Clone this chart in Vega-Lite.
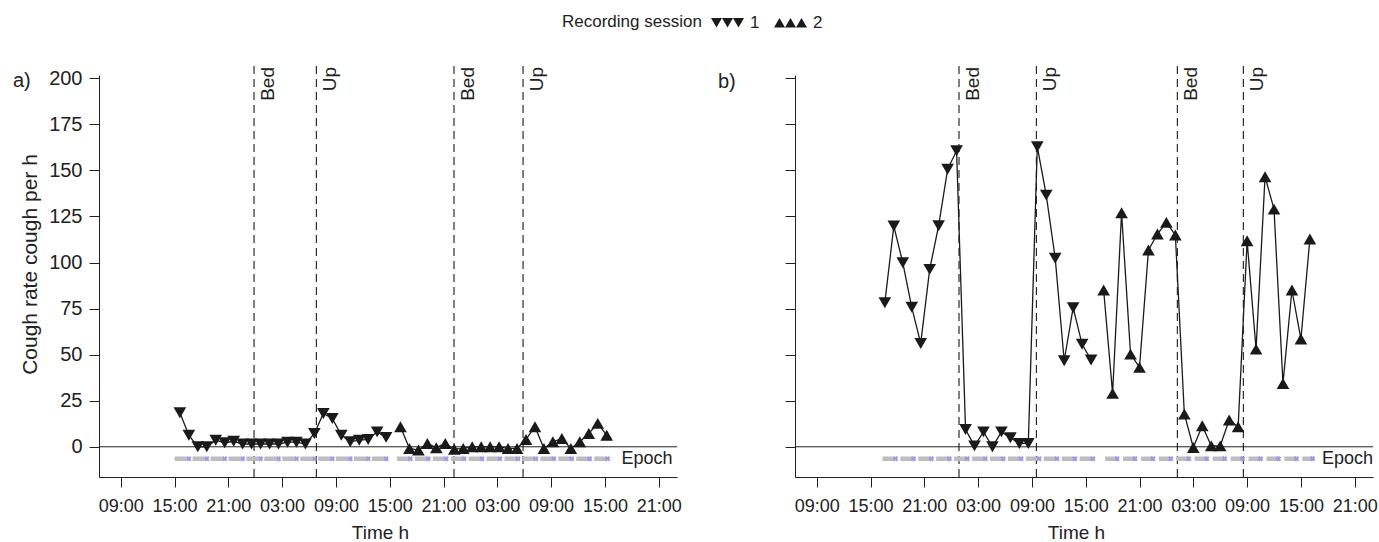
{
  "$schema": "https://vega.github.io/schema/vega-lite/v6.json",
  "background": "white",
  "padding": {"left": 13, "top": 14, "right": 5, "bottom": 2},
  "bounds": "flush",
  "spacing": 118,
  "resolve": {"scale": {"shape": "independent"}, "legend": {"shape": "independent"}},
  "config": {
    "font": "Liberation Sans",
    "view": {"stroke": null},
    "axis": {"domainColor": "#222", "tickColor": "#222", "labelColor": "#222", "titleColor": "#222", "grid": false, "labelFont": "Liberation Sans", "titleFont": "Liberation Sans", "titleFontWeight": "normal", "tickSize": 10, "domainWidth": 1, "tickWidth": 1},
    "title": {"font": "Liberation Sans", "fontWeight": "normal", "fontSize": 20, "color": "#222"},
    "legend": {"labelFont": "Liberation Sans", "titleFont": "Liberation Sans"}
  },
  "datasets": {
    "pts": [
      {"panel":"a","session":"1","hour":15.6,"rate":18.5},{"panel":"a","session":"1","hour":16.6,"rate":6.3},{"panel":"a","session":"1","hour":17.6,"rate":0},{"panel":"a","session":"1","hour":18.6,"rate":0},{"panel":"a","session":"1","hour":19.6,"rate":3.6},{"panel":"a","session":"1","hour":20.6,"rate":2.2},{"panel":"a","session":"1","hour":21.6,"rate":3},{"panel":"a","session":"1","hour":22.6,"rate":1.5},{"panel":"a","session":"1","hour":23.6,"rate":1.5},{"panel":"a","session":"1","hour":24.6,"rate":1.5},{"panel":"a","session":"1","hour":25.6,"rate":1.5},{"panel":"a","session":"1","hour":26.6,"rate":1.5},{"panel":"a","session":"1","hour":27.6,"rate":2.5},{"panel":"a","session":"1","hour":28.6,"rate":2.5},{"panel":"a","session":"1","hour":29.6,"rate":1.5},{"panel":"a","session":"1","hour":30.6,"rate":7.2},{"panel":"a","session":"1","hour":31.6,"rate":18.1},{"panel":"a","session":"1","hour":32.6,"rate":15.4},{"panel":"a","session":"1","hour":33.6,"rate":6.3},{"panel":"a","session":"1","hour":34.6,"rate":2.7},{"panel":"a","session":"1","hour":35.6,"rate":3.6},{"panel":"a","session":"1","hour":36.6,"rate":4},{"panel":"a","session":"1","hour":37.6,"rate":8.1},{"panel":"a","session":"1","hour":38.6,"rate":5.1},
      {"panel":"a","session":"2","hour":40.2,"rate":10.9},{"panel":"a","session":"2","hour":41.2,"rate":-0.9},{"panel":"a","session":"2","hour":42.2,"rate":-1.8},{"panel":"a","session":"2","hour":43.2,"rate":1.8},{"panel":"a","session":"2","hour":44.2,"rate":-0.5},{"panel":"a","session":"2","hour":45.2,"rate":1.8},{"panel":"a","session":"2","hour":46.2,"rate":-1.3},{"panel":"a","session":"2","hour":47.2,"rate":-0.9},{"panel":"a","session":"2","hour":48.2,"rate":0},{"panel":"a","session":"2","hour":49.2,"rate":0},{"panel":"a","session":"2","hour":50.2,"rate":0},{"panel":"a","session":"2","hour":51.2,"rate":0},{"panel":"a","session":"2","hour":52.2,"rate":-0.9},{"panel":"a","session":"2","hour":53.2,"rate":-0.9},{"panel":"a","session":"2","hour":54.2,"rate":4},{"panel":"a","session":"2","hour":55.2,"rate":10.9},{"panel":"a","session":"2","hour":56.2,"rate":-0.9},{"panel":"a","session":"2","hour":57.2,"rate":2.7},{"panel":"a","session":"2","hour":58.2,"rate":4.5},{"panel":"a","session":"2","hour":59.2,"rate":-0.9},{"panel":"a","session":"2","hour":60.2,"rate":2.7},{"panel":"a","session":"2","hour":61.2,"rate":7.2},{"panel":"a","session":"2","hour":62.2,"rate":12.7},{"panel":"a","session":"2","hour":63.2,"rate":6.3},
      {"panel":"b","session":"1","hour":16.6,"rate":78.2},{"panel":"b","session":"1","hour":17.6,"rate":119.8},{"panel":"b","session":"1","hour":18.6,"rate":99.9},{"panel":"b","session":"1","hour":19.6,"rate":75.7},{"panel":"b","session":"1","hour":20.6,"rate":56.1},{"panel":"b","session":"1","hour":21.6,"rate":96.3},{"panel":"b","session":"1","hour":22.6,"rate":120},{"panel":"b","session":"1","hour":23.6,"rate":150.6},{"panel":"b","session":"1","hour":24.6,"rate":160.7},{"panel":"b","session":"1","hour":25.6,"rate":9.4},{"panel":"b","session":"1","hour":26.6,"rate":0.5},{"panel":"b","session":"1","hour":27.6,"rate":8.1},{"panel":"b","session":"1","hour":28.6,"rate":0},{"panel":"b","session":"1","hour":29.6,"rate":8.1},{"panel":"b","session":"1","hour":30.6,"rate":4.9},{"panel":"b","session":"1","hour":31.6,"rate":1.8},{"panel":"b","session":"1","hour":32.6,"rate":1.8},{"panel":"b","session":"1","hour":33.6,"rate":162.9},{"panel":"b","session":"1","hour":34.6,"rate":136.6},{"panel":"b","session":"1","hour":35.6,"rate":102.3},{"panel":"b","session":"1","hour":36.6,"rate":46.7},{"panel":"b","session":"1","hour":37.6,"rate":75.5},{"panel":"b","session":"1","hour":38.6,"rate":55.6},{"panel":"b","session":"1","hour":39.6,"rate":47.1},
      {"panel":"b","session":"2","hour":41,"rate":85.1},{"panel":"b","session":"2","hour":42,"rate":29},{"panel":"b","session":"2","hour":43,"rate":127},{"panel":"b","session":"2","hour":44,"rate":50.3},{"panel":"b","session":"2","hour":45,"rate":43.1},{"panel":"b","session":"2","hour":46,"rate":106.8},{"panel":"b","session":"2","hour":47,"rate":115.5},{"panel":"b","session":"2","hour":48,"rate":121.8},{"panel":"b","session":"2","hour":49,"rate":114.9},{"panel":"b","session":"2","hour":50,"rate":17.8},{"panel":"b","session":"2","hour":51,"rate":-0.4},{"panel":"b","session":"2","hour":52,"rate":11.4},{"panel":"b","session":"2","hour":53,"rate":0.5},{"panel":"b","session":"2","hour":54,"rate":0.5},{"panel":"b","session":"2","hour":55,"rate":14.5},{"panel":"b","session":"2","hour":56,"rate":10.9},{"panel":"b","session":"2","hour":57,"rate":111.8},{"panel":"b","session":"2","hour":58,"rate":53},{"panel":"b","session":"2","hour":59,"rate":146.6},{"panel":"b","session":"2","hour":60,"rate":129},{"panel":"b","session":"2","hour":61,"rate":34.4},{"panel":"b","session":"2","hour":62,"rate":85.1},{"panel":"b","session":"2","hour":63,"rate":58.5},{"panel":"b","session":"2","hour":64,"rate":112.8}
    ],
    "events": [
      {"panel":"a","label":"Bed","hour":23.87},{"panel":"a","label":"Up","hour":30.82},{"panel":"a","label":"Bed","hour":46.17},{"panel":"a","label":"Up","hour":53.87},
      {"panel":"b","label":"Bed","hour":24.87},{"panel":"b","label":"Up","hour":33.5},{"panel":"b","label":"Bed","hour":49.22},{"panel":"b","label":"Up","hour":56.58}
    ],
    "epoch": [
      {"panel":"a","seg":1,"hour":15.02},{"panel":"a","seg":1,"hour":39.0},{"panel":"a","seg":2,"hour":39.81},{"panel":"a","seg":2,"hour":63.84},
      {"panel":"b","seg":1,"hour":16.33},{"panel":"b","seg":1,"hour":40.31},{"panel":"b","seg":2,"hour":41.16},{"panel":"b","seg":2,"hour":64.58}
    ],
    "epochLabel": [
      {"panel":"a","hour":63.84,"label":"Epoch"},{"panel":"b","hour":64.58,"label":"Epoch"}
    ],
    "ticksE": [
      {"panel":"a","hour":16.6},{"panel":"a","hour":18.6},{"panel":"a","hour":20.6},{"panel":"a","hour":22.6},{"panel":"a","hour":24.6},{"panel":"a","hour":26.6},{"panel":"a","hour":28.6},{"panel":"a","hour":30.6},{"panel":"a","hour":32.6},{"panel":"a","hour":34.6},{"panel":"a","hour":36.6},{"panel":"a","hour":38.6},
      {"panel":"a","hour":41.3},{"panel":"a","hour":43.3},{"panel":"a","hour":45.3},{"panel":"a","hour":47.3},{"panel":"a","hour":49.3},{"panel":"a","hour":51.3},{"panel":"a","hour":53.3},{"panel":"a","hour":55.3},{"panel":"a","hour":57.3},{"panel":"a","hour":59.3},{"panel":"a","hour":61.3},{"panel":"a","hour":63.3},
      {"panel":"b","hour":17.8},{"panel":"b","hour":19.8},{"panel":"b","hour":21.8},{"panel":"b","hour":23.8},{"panel":"b","hour":25.8},{"panel":"b","hour":27.8},{"panel":"b","hour":29.8},{"panel":"b","hour":31.8},{"panel":"b","hour":33.8},{"panel":"b","hour":35.8},{"panel":"b","hour":37.8},{"panel":"b","hour":39.8},
      {"panel":"b","hour":42.5},{"panel":"b","hour":44.5},{"panel":"b","hour":46.5},{"panel":"b","hour":48.5},{"panel":"b","hour":50.5},{"panel":"b","hour":52.5},{"panel":"b","hour":54.5},{"panel":"b","hour":56.5},{"panel":"b","hour":58.5},{"panel":"b","hour":60.5},{"panel":"b","hour":62.5},{"panel":"b","hour":64.3}
    ]
  },
  "hconcat": [
    {
      "width": 578, "height": 402,
      "title": {"text": "a)", "anchor": "start", "frame": "group", "orient": "top", "offset": 0, "dx": -86, "dy": 77},
      "resolve": {"scale": {"shape": "independent"}, "legend": {"shape": "independent"}},
      "layer": [
        {"data": {"name": "events"}, "transform": [{"filter": "datum.panel == 'a'"}],
         "mark": {"type": "rule", "color": "#1a1a1a", "strokeDash": [8, 5], "strokeWidth": 1.1},
         "encoding": {"x": {"field": "hour", "type": "quantitative"}, "y": {"datum": -16.4}, "y2": {"datum": 209}}},
        {"data": {"name": "events"}, "transform": [{"filter": "datum.panel == 'a'"}],
         "mark": {"type": "text", "angle": 270, "align": "right", "baseline": "top", "dx": 8, "dy": 5, "fontSize": 19, "color": "#222"},
         "encoding": {"x": {"field": "hour", "type": "quantitative"}, "y": {"datum": 201.8}, "text": {"field": "label"}}},
        {"data": {"values": [{}]},
         "mark": {"type": "rule", "color": "#222", "strokeWidth": 1},
         "encoding": {"y": {"datum": 0}}},
        {"data": {"name": "epoch"}, "transform": [{"filter": "datum.panel == 'a'"}],
         "mark": {"type": "line", "color": "#bdbdbd", "strokeWidth": 4.5, "strokeDash": [12, 5.93]},
         "encoding": {"x": {"field": "hour", "type": "quantitative"}, "y": {"datum": -6.5}, "detail": {"field": "seg"}}},
        {"data": {"name": "ticksE"}, "transform": [{"filter": "datum.panel == 'a'"}],
         "mark": {"type": "point", "shape": "cross", "filled": true, "size": 30, "color": "#a397e0", "angle": 45, "opacity": 1},
         "encoding": {"x": {"field": "hour", "type": "quantitative"}, "y": {"datum": -6.5}}},
        {"data": {"name": "epochLabel"}, "transform": [{"filter": "datum.panel == 'a'"}],
         "mark": {"type": "text", "align": "left", "baseline": "middle", "dx": 9, "fontSize": 18, "color": "#222"},
         "encoding": {"x": {"field": "hour", "type": "quantitative"}, "y": {"datum": -6.5}, "text": {"field": "label"}}},
        {"data": {"name": "pts"}, "transform": [{"filter": "datum.panel == 'a'"}],
         "mark": {"type": "line", "color": "#1a1a1a", "strokeWidth": 1.3},
         "encoding": {
           "x": {"field": "hour", "type": "quantitative", "scale": {"domain": [6.58, 71.04], "nice": false, "zero": false},
                 "axis": {"values": [9, 15, 21, 27, 33, 39, 45, 51, 57, 63, 69], "labelExpr": "(datum.value % 24 < 10 ? '0' : '') + (datum.value % 24) + ':00'", "title": "Time h", "titleX": 281, "titleFontSize": 19, "labelFontSize": 18, "labelPadding": 10, "titlePadding": 8, "labelFlush": false}},
           "y": {"field": "rate", "type": "quantitative", "scale": {"domain": [-16.4, 201.8], "nice": false, "zero": false},
                 "axis": {"values": [0, 25, 50, 75, 100, 125, 150, 175, 200], "title": "Cough rate cough per h", "titleY": 189, "titleFontSize": 21, "labelFontSize": 20, "labelPadding": 7, "titlePadding": 8}},
           "detail": {"field": "session"}}},
        {"data": {"name": "pts"}, "transform": [{"filter": "datum.panel == 'a'"}],
         "mark": {"type": "point", "filled": true, "size": 160, "color": "#1a1a1a", "opacity": 1},
         "encoding": {
           "x": {"field": "hour", "type": "quantitative"},
           "y": {"field": "rate", "type": "quantitative"},
           "shape": {"field": "session", "type": "nominal", "scale": {"domain": ["1", "2"], "range": ["triangle-down", "triangle-up"]}, "legend": null}}},
        {"data": {"name": "pts"}, "transform": [{"filter": "datum.panel == 'z'"}],
         "mark": {"type": "point", "filled": true, "size": 121, "color": "#1a1a1a", "opacity": 1, "strokeWidth": 1},
         "encoding": {
           "shape": {"field": "session", "type": "nominal",
                     "scale": {"domain": ["1", "2"], "range": ["M-1,-0.866L1,-0.866L0,0.866Z M1,-0.866L3,-0.866L2,0.866Z M3,-0.866L5,-0.866L4,0.866Z M0,0L4,0", "M-1,0.866L1,0.866L0,-0.866Z M1,0.866L3,0.866L2,-0.866Z M3,0.866L5,0.866L4,-0.866Z M0,0L4,0"]},
                     "legend": {"orient": "none", "legendX": 463, "legendY": -61, "direction": "horizontal", "title": "Recording session", "titleOrient": "left", "titleFontSize": 17, "titleFontWeight": "normal", "titleColor": "#222", "titleBaseline": "middle", "titlePadding": 6, "labelFontSize": 17, "labelColor": "#222", "symbolSize": 121, "symbolFillColor": "#1a1a1a", "symbolStrokeColor": "#1a1a1a", "symbolStrokeWidth": 1, "symbolOpacity": 1, "labelOffset": 25, "columnPadding": 11}}}}
      ]
    },
    {
      "width": 578, "height": 402,
      "title": {"text": "b)", "anchor": "start", "frame": "group", "orient": "top", "offset": 0, "dx": -77, "dy": 31},
      "layer": [
        {"data": {"name": "events"}, "transform": [{"filter": "datum.panel == 'b'"}],
         "mark": {"type": "rule", "color": "#1a1a1a", "strokeDash": [8, 5], "strokeWidth": 1.1},
         "encoding": {"x": {"field": "hour", "type": "quantitative"}, "y": {"datum": -16.4}, "y2": {"datum": 209}}},
        {"data": {"name": "events"}, "transform": [{"filter": "datum.panel == 'b'"}],
         "mark": {"type": "text", "angle": 270, "align": "right", "baseline": "top", "dx": 8, "dy": 5, "fontSize": 19, "color": "#222"},
         "encoding": {"x": {"field": "hour", "type": "quantitative"}, "y": {"datum": 201.8}, "text": {"field": "label"}}},
        {"data": {"values": [{}]},
         "mark": {"type": "rule", "color": "#222", "strokeWidth": 1},
         "encoding": {"y": {"datum": 0}}},
        {"data": {"name": "epoch"}, "transform": [{"filter": "datum.panel == 'b'"}],
         "mark": {"type": "line", "color": "#bdbdbd", "strokeWidth": 4.5, "strokeDash": [12, 5.93]},
         "encoding": {"x": {"field": "hour", "type": "quantitative"}, "y": {"datum": -6.5}, "detail": {"field": "seg"}}},
        {"data": {"name": "ticksE"}, "transform": [{"filter": "datum.panel == 'b'"}],
         "mark": {"type": "point", "shape": "cross", "filled": true, "size": 30, "color": "#a397e0", "angle": 45, "opacity": 1},
         "encoding": {"x": {"field": "hour", "type": "quantitative"}, "y": {"datum": -6.5}}},
        {"data": {"name": "epochLabel"}, "transform": [{"filter": "datum.panel == 'b'"}],
         "mark": {"type": "text", "align": "left", "baseline": "middle", "dx": 7, "fontSize": 18, "color": "#222"},
         "encoding": {"x": {"field": "hour", "type": "quantitative"}, "y": {"datum": -6.5}, "text": {"field": "label"}}},
        {"data": {"name": "pts"}, "transform": [{"filter": "datum.panel == 'b'"}],
         "mark": {"type": "line", "color": "#1a1a1a", "strokeWidth": 1.3},
         "encoding": {
           "x": {"field": "hour", "type": "quantitative", "scale": {"domain": [6.58, 71.04], "nice": false, "zero": false},
                 "axis": {"values": [9, 15, 21, 27, 33, 39, 45, 51, 57, 63, 69], "labelExpr": "(datum.value % 24 < 10 ? '0' : '') + (datum.value % 24) + ':00'", "title": "Time h", "titleX": 281, "titleFontSize": 19, "labelFontSize": 18, "labelPadding": 10, "titlePadding": 8, "labelFlush": false}},
           "y": {"field": "rate", "type": "quantitative", "scale": {"domain": [-16.4, 201.8], "nice": false, "zero": false},
                 "axis": {"values": [0, 25, 50, 75, 100, 125, 150, 175, 200], "title": null, "labels": false}},
           "detail": {"field": "session"}}},
        {"data": {"name": "pts"}, "transform": [{"filter": "datum.panel == 'b'"}],
         "mark": {"type": "point", "filled": true, "size": 160, "color": "#1a1a1a", "opacity": 1},
         "encoding": {
           "x": {"field": "hour", "type": "quantitative"},
           "y": {"field": "rate", "type": "quantitative"},
           "shape": {"field": "session", "type": "nominal", "scale": {"domain": ["1", "2"], "range": ["triangle-down", "triangle-up"]}, "legend": null}}}
      ]
    }
  ]
}
